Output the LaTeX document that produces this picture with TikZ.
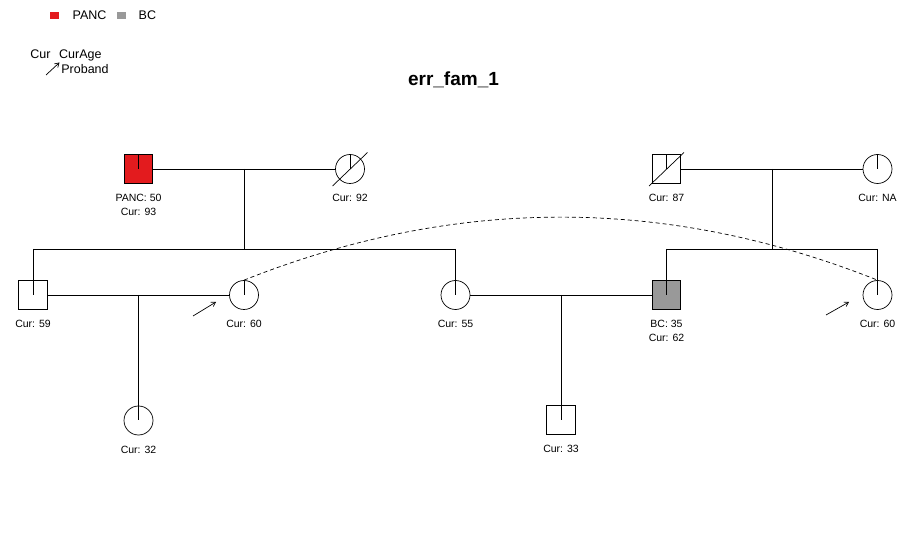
\documentclass[tikz,border=0pt]{standalone}
\usepackage{fontspec}
\setmainfont{Liberation Sans}
\usetikzlibrary{positioning,calc,arrows.meta}
\definecolor{pancred}{RGB}{227,27,30}
\definecolor{bcgray}{RGB}{153,153,153}

\tikzset{
  male/.style={draw, rectangle, minimum size=28.5pt, inner sep=0pt},
  female/.style={draw, circle, minimum size=29pt, inner sep=0pt},
  info/.style={inner sep=0pt, align=center, font=\fontsize{10.5}{14}\selectfont},
  legtext/.style={inner sep=0pt, font=\fontsize{12.5}{15}\selectfont},
  legkey/.style={inner sep=0pt, minimum width=9pt, minimum height=7pt},
  proband/.style={-{Straight Barb[length=4pt,width=5pt]}},
  dupline/.style={dash pattern=on 4pt off 3pt},
}

\begin{document}
\begin{tikzpicture}[x=1pt, y=-1pt, line width=0.7pt, node distance=10pt]
  \useasboundingbox (0,0) rectangle (911,537);

  % legend
  \node [legkey, fill=pancred] (keypanc) at (54.5,15.5) {};
  \node [legtext, right=13pt of keypanc] (txtpanc) {PANC};
  \node [legkey, fill=bcgray] (keybc) at (121.5,15.5) {};
  \node [legtext, right=12pt of keybc] (txtbc) {BC};
  \node [legtext, anchor=base west] (legcur) at (30,58.3) {Cur};
  \node [legtext, base right=8pt of legcur] (legage) {CurAge};
  \node [legtext, anchor=base west] (legprob) at (61,74) {Proband};
  \coordinate (legtail) at (46,75);
  \coordinate (leghead) at (59.5,62.5);
  \draw [proband] (legtail) -- (leghead);

  \node [font=\bfseries\fontsize{19}{22}\selectfont, anchor=base] (title) at (453.5,86) {err\_fam\_1};

  % first generation
  \node [male, fill=pancred] (panc) at (138.5,169) {};
  \node [female] (gm92) at (350,169) {};
  \node [male] (gf87) at (666.5,169) {};
  \node [female] (gmna) at (877.5,169) {};
    \node [info, below=of panc] (panclab) {PANC: 50\\Cur: 93};
    \node [info, below=of gm92] (gm92lab) {Cur: 92};
    \node [info, below=of gf87] (gf87lab) {Cur: 87};
    \node [info, below=of gmna] (gmnalab) {Cur: NA};

  % second generation
  \node [male] (m59) at (33,295) {};
  \node [female] (f60) at (244,295) {};
  \node [female] (f55) at (455.5,295) {};
  \node [male, fill=bcgray] (bc62) at (666.5,295) {};
  \node [female] (f60r) at (877.5,295) {};
    \node [info, below=of m59] (m59lab) {Cur: 59};
    \node [info, below=of f60] (f60lab) {Cur: 60};
    \node [info, below=of f55] (f55lab) {Cur: 55};
    \node [info, below=of bc62] (bc62lab) {BC: 35\\Cur: 62};
    \node [info, below=of f60r] (f60rlab) {Cur: 60};

  % third generation
  \node [female] (f32) at (138.5,420.5) {};
  \node [male] (m33) at (561,420) {};
    \node [info, below=of f32] (f32lab) {Cur: 32};
    \node [info, below=of m33] (m33lab) {Cur: 33};

  % founders: tick and deceased mark
  \foreach \n in {panc,gm92,gf87,gmna}
    \draw (\n.north) -- (\n.center);
  \foreach \n in {gm92,gf87}
    \draw ([shift={(-17.5,17)}]\n.center) -- ([shift={(17.5,-16.5)}]\n.center);

  % marriages and sibships
  \path (panc) edge (gm92);
  \coordinate (mar1) at ($(panc)!0.5!(gm92)$);
  \coordinate (sib1) at ($(mar1)+(0,80)$);
  \draw (mar1) -- (sib1);
  \draw (m59 |- sib1) -- (f55 |- sib1);
    \draw (m59 |- sib1) -- (m59.center);
    \draw (f55 |- sib1) -- (f55.center);

  \path (gf87) edge (gmna);
  \coordinate (mar2) at ($(gf87)!0.5!(gmna)$);
  \coordinate (sib2) at ($(mar2)+(0,80)$);
  \draw (mar2) -- (sib2);
  \draw (bc62 |- sib2) -- (f60r |- sib2);
    \draw (bc62 |- sib2) -- (bc62.center);
    \draw (f60r |- sib2) -- (f60r.center);

  \path (m59) edge (f60);
  \coordinate (mar3) at ($(m59)!0.5!(f60)$);
    \draw (mar3) -- (f32.center);

  \path (f55) edge (bc62);
  \coordinate (mar4) at ($(f55)!0.5!(bc62)$);
    \draw (mar4) -- (m33.center);

  \draw (f60.north) -- (f60.center);

  % duplicate of the proband
  \coordinate (duptop) at ($(f60.north)!0.5!(f60r.north)+(0,-126)$);
  \draw [dupline] (f60.north) .. controls ($(f60.north)!0.667!(duptop)$) and ($(f60r.north)!0.667!(duptop)$) .. (f60r.north);

  % proband arrows
  \coordinate (pbtail) at ([shift={(-51,21)}]f60.center);
  \coordinate (pbhead) at ([shift={(-28,7)}]f60.center);
  \draw [proband] (pbtail) -- (pbhead);
  \coordinate (pbtailr) at ([shift={(-51.5,20)}]f60r.center);
  \coordinate (pbheadr) at ([shift={(-28.5,7)}]f60r.center);
  \draw [proband] (pbtailr) -- (pbheadr);
\end{tikzpicture}
\end{document}
